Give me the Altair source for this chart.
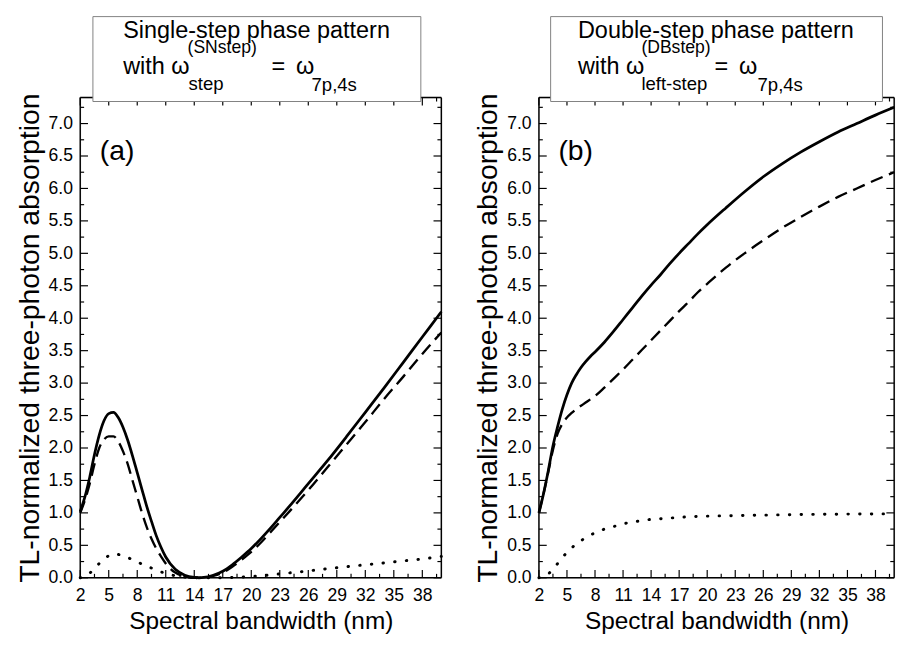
import altair as alt
import pandas as pd

# ---------------- data ----------------
x_a = [2, 2.5, 3, 3.5, 4, 4.5, 5, 5.5, 6, 6.5, 7, 7.5, 8, 8.5, 9, 9.5, 10, 10.5, 11, 12, 13, 14,
       14.5, 15, 16, 17, 18, 19, 20, 21, 22, 23, 24, 26, 28, 30, 32, 34, 36, 38, 40]
solid_a = [1.02, 1.25, 1.55, 1.9, 2.2, 2.42, 2.53, 2.55, 2.47, 2.32, 2.12, 1.88, 1.62, 1.36, 1.1,
           0.87, 0.65, 0.47, 0.32, 0.13, 0.04, 0.005, 0.0, 0.005, 0.04, 0.1, 0.2, 0.32, 0.45, 0.6,
           0.76, 0.93, 1.1, 1.45, 1.8, 2.17, 2.55, 2.93, 3.32, 3.71, 4.1]
dashed_a = [1.0, 1.2, 1.45, 1.75, 2.0, 2.13, 2.18, 2.18, 2.1, 1.95, 1.75, 1.5, 1.25, 1.0, 0.78,
            0.6, 0.45, 0.33, 0.22, 0.08, 0.02, 0.0, 0.0, 0.0, 0.03, 0.08, 0.17, 0.28, 0.4, 0.54,
            0.7, 0.86, 1.02, 1.35, 1.7, 2.05, 2.4, 2.76, 3.1, 3.45, 3.78]
dotted_a = [0.0, 0.02, 0.07, 0.15, 0.22, 0.29, 0.34, 0.37, 0.36, 0.34, 0.31, 0.28, 0.25, 0.21, 0.18,
            0.15, 0.12, 0.09, 0.07, 0.03, 0.01, 0.0, 0.0, 0.0, 0.0, 0.0, 0.005, 0.01, 0.02, 0.03,
            0.045, 0.06, 0.075, 0.105, 0.14, 0.17, 0.2, 0.23, 0.26, 0.29, 0.33]

x_b = [2, 2.5, 3, 3.5, 4, 4.5, 5, 5.5, 6, 6.5, 7, 7.5, 8, 9, 10, 11, 12, 13, 14, 15, 16, 17, 18,
       19, 20, 22, 24, 26, 28, 30, 32, 34, 36, 38, 40]
solid_b = [1.0, 1.3, 1.65, 2.03, 2.33, 2.6, 2.82, 3.0, 3.13, 3.24, 3.33, 3.41, 3.48, 3.63, 3.8,
           3.98, 4.16, 4.34, 4.51, 4.67, 4.84, 5.0, 5.15, 5.3, 5.44, 5.7, 5.95, 6.18, 6.38, 6.56,
           6.72, 6.87, 7.0, 7.13, 7.25]
dashed_b = [1.0, 1.3, 1.63, 1.97, 2.22, 2.37, 2.47, 2.54, 2.6, 2.65, 2.7, 2.75, 2.8, 2.93, 3.07,
            3.21, 3.36, 3.51, 3.66, 3.81, 3.96, 4.11, 4.25, 4.4, 4.53, 4.78, 5.0, 5.2, 5.39, 5.56,
            5.72, 5.87, 6.0, 6.13, 6.25]
dotted_b = [0.0, 0.02, 0.06, 0.13, 0.22, 0.31, 0.39, 0.46, 0.52, 0.57, 0.62, 0.66, 0.69, 0.75,
            0.79, 0.83, 0.86, 0.88, 0.9, 0.91, 0.92, 0.93, 0.94, 0.945, 0.95, 0.955, 0.96, 0.965,
            0.97, 0.975, 0.978, 0.98, 0.982, 0.984, 0.985]

x_major = [2, 5, 8, 11, 14, 17, 20, 23, 26, 29, 32, 35, 38]
x_minor = [3.5, 6.5, 9.5, 12.5, 15.5, 18.5, 21.5, 24.5, 27.5, 30.5, 33.5, 36.5, 39.5]
y_major = [0, 0.5, 1, 1.5, 2, 2.5, 3, 3.5, 4, 4.5, 5, 5.5, 6, 6.5, 7]
y_minor = [0.25, 0.75, 1.25, 1.75, 2.25, 2.75, 3.25, 3.75, 4.25, 4.75, 5.25, 5.75, 6.25,
           6.75, 7.25]

X_DOMAIN = [2, 40]
Y_DOMAIN = [0, 7.4]
H = 492
FONT = "Liberation Sans"

one = alt.Data(values=[{"k": 0}])


def panel(xv, s, d, o, width, label, box, pieces):
    df = pd.DataFrame({"x": xv, "solid": s, "dashed": d, "dotted": o})
    xs = alt.Scale(domain=X_DOMAIN, nice=False, zero=False)
    ys = alt.Scale(domain=Y_DOMAIN, nice=False, zero=False)
    xaxis = alt.Axis(values=x_major, format="d", ticks=False, tickSize=0, domain=False, grid=False,
                     labelFontSize=18, labelPadding=9, labelFont=FONT, labelColor="black",
                     labelOverlap=False, labelFlush=False, labelSeparation=0,
                     title="Spectral bandwidth (nm)", titleFontSize=25, titleFont=FONT,
                     titleFontWeight="normal", titleColor="black", titlePadding=5)
    yaxis = alt.Axis(values=y_major, format=".1f", ticks=False, tickSize=0, domain=False, grid=False,
                     labelFontSize=18, labelPadding=8, labelFont=FONT, labelColor="black",
                     labelOverlap=False, labelFlush=False, labelSeparation=0,
                     title="TL-normalized three-photon absorption", titleFontSize=29,
                     titleFont=FONT, titleFontWeight="normal", titleColor="black",
                     titlePadding=4)
    base = alt.Chart(df)
    solid = base.mark_line(color="black", strokeWidth=2.8, interpolate="monotone").encode(
        x=alt.X("x:Q", scale=xs, axis=xaxis), y=alt.Y("solid:Q", scale=ys, axis=yaxis))
    dashed = base.mark_line(color="black", strokeWidth=2.4, strokeDash=[13, 7],
                            interpolate="monotone").encode(
        x=alt.X("x:Q", scale=xs, axis=xaxis), y=alt.Y("dashed:Q", scale=ys, axis=yaxis))
    dotted = base.mark_line(color="black", strokeWidth=3, strokeDash=[0.5, 11.5],
                            strokeCap="round", interpolate="monotone").encode(
        x=alt.X("x:Q", scale=xs, axis=xaxis), y=alt.Y("dotted:Q", scale=ys, axis=yaxis))

    layers = [solid, dashed, dotted]
    # inward ticks on all four sides
    for vals, ln in ((x_major, 8), (x_minor, 4)):
        tdf = pd.DataFrame({"p": vals})
        layers.append(alt.Chart(tdf).mark_rule(color="black", strokeWidth=1.2).encode(
            x=alt.X("p:Q", scale=xs, axis=xaxis), y=alt.value(H), y2=alt.value(H - ln)))
        layers.append(alt.Chart(tdf).mark_rule(color="black", strokeWidth=1.2).encode(
            x=alt.X("p:Q", scale=xs, axis=xaxis), y=alt.value(0), y2=alt.value(ln)))
    for vals, ln in ((y_major, 8), (y_minor, 4)):
        tdf = pd.DataFrame({"p": vals})
        layers.append(alt.Chart(tdf).mark_rule(color="black", strokeWidth=1.2).encode(
            y=alt.Y("p:Q", scale=ys, axis=yaxis), x=alt.value(0), x2=alt.value(ln)))
        layers.append(alt.Chart(tdf).mark_rule(color="black", strokeWidth=1.2).encode(
            y=alt.Y("p:Q", scale=ys, axis=yaxis), x=alt.value(width), x2=alt.value(width - ln)))
    # frame
    fr = dict(color="black", strokeWidth=1.5)
    layers.append(alt.Chart(one).mark_rule(**fr).encode(x=alt.value(0), x2=alt.value(width), y=alt.value(0)))
    layers.append(alt.Chart(one).mark_rule(**fr).encode(x=alt.value(0), x2=alt.value(width), y=alt.value(H)))
    layers.append(alt.Chart(one).mark_rule(**fr).encode(y=alt.value(0), y2=alt.value(H), x=alt.value(0)))
    layers.append(alt.Chart(one).mark_rule(**fr).encode(y=alt.value(0), y2=alt.value(H), x=alt.value(width)))
    # panel label
    layers.append(alt.Chart(one).mark_text(align="left", baseline="middle", fontSize=29,
                                           font=FONT, color="black").encode(
        x=alt.value(20), y=alt.value(55), text=alt.value(label)))
    # title box
    layers.append(alt.Chart(one).mark_rect(fill="white", stroke="#808080", strokeWidth=1).encode(
        x=alt.value(box[0]), x2=alt.value(box[1]), y=alt.value(-83), y2=alt.value(4)))
    for txt, px, py, fs in pieces:
        layers.append(alt.Chart(one).mark_text(align="left", baseline="alphabetic", fontSize=fs,
                                               font=FONT, color="black").encode(
            x=alt.value(px), y=alt.value(py), text=alt.value(txt)))
    return alt.layer(*layers).properties(width=width, height=H)


pieces_a = [
    ("Single-step phase pattern", 44, -61, 24),
    ("with ω", 44, -24, 24),
    ("(SNstep)", 110, -46, 18),
    ("step", 111, -8, 19),
    ("=", 196, -24, 24),
    ("ω", 221, -24, 24),
    ("7p,4s", 237, -7, 19),
]
pieces_b = [
    ("Double-step phase pattern", 40, -61, 24),
    ("with ω", 40, -24, 24),
    ("(DBstep)", 105, -46, 18),
    ("left-step", 105, -8, 19),
    ("=", 180, -24, 24),
    ("ω", 205, -24, 24),
    ("7p,4s", 224, -7, 19),
]

left = panel(x_a, solid_a, dashed_a, dotted_a, 370, "(a)", (13, 349), pieces_a)
right = panel(x_b, solid_b, dashed_b, dotted_b, 364, "(b)", (12, 352), pieces_b)

chart = alt.hconcat(left, right, spacing=26).resolve_scale(x="independent", y="independent").properties(
    padding={"left": 7, "top": 0, "right": 0, "bottom": 0}
).configure_view(stroke=None).configure_axis(labelOverlap=False).configure(background="white")

chart.save("out.html", embed_options={"renderer": "svg", "actions": False})
